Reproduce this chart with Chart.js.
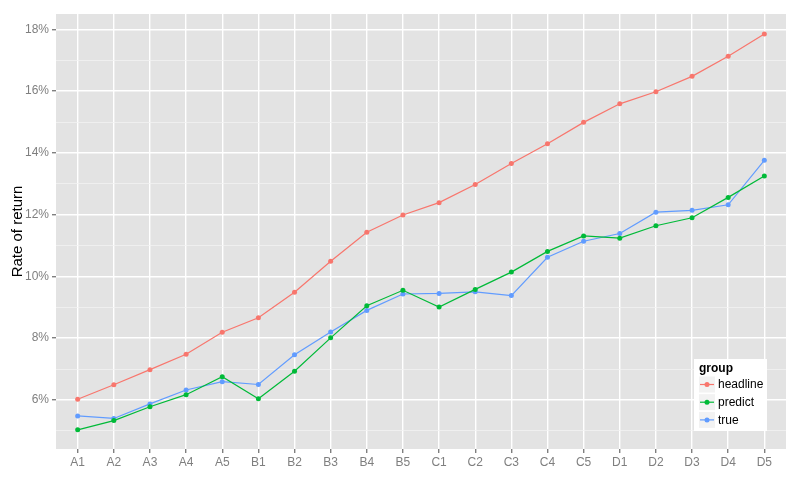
<!DOCTYPE html>
<html>
<head>
<meta charset="utf-8">
<script src="https://cdn.jsdelivr.net/npm/chart.js@4"></script>
<style>
  html, body { margin: 0; padding: 0; background: #fff; }
  #wrap { width: 800px; height: 480px; }
</style>
</head>
<body>
<div id="wrap"><canvas id="chartRate" width="800" height="480"></canvas></div>
<script>
// Data
const categories = ["A1","A2","A3","A4","A5","B1","B2","B3","B4","B5","C1","C2","C3","C4","C5","D1","D2","D3","D4","D5"];
const headline = [6.02,6.49,6.98,7.48,8.19,8.66,9.49,10.49,11.43,11.99,12.39,12.98,13.66,14.30,14.99,15.59,15.98,16.48,17.13,17.85];
const predict  = [5.03,5.33,5.78,6.17,6.75,6.04,6.93,8.01,9.05,9.55,9.01,9.58,10.14,10.81,11.31,11.24,11.64,11.90,12.56,13.25];
const trueRate = [5.48,5.40,5.87,6.32,6.59,6.50,7.46,8.20,8.90,9.43,9.45,9.50,9.38,10.62,11.14,11.39,12.08,12.14,12.32,13.76];
const groupNames = ["headline","predict","true"];
const groupColors = ["#F8766D","#00BA38","#619CFF"];
const yTicks = [5,6,7,8,9,10,11,12,13,14,15,16,17,18];

const fontFam = "'Liberation Sans', Arial, sans-serif";

function toPoints(arr) {
	return arr.map(function(v, i){ return {x: i, y: v}; });
}

// panel background
const panelBg = {
	id: "panelBg",
	beforeDraw: function(chart) {
		const a = chart.chartArea, ctx = chart.ctx;
		ctx.save();
		ctx.fillStyle = "#E3E3E3";
		ctx.fillRect(a.left, a.top, a.right - a.left, a.bottom - a.top);
		ctx.restore();
	}
};

// ggplot-like legend inside the panel
const groupLegend = {
	id: "groupLegend",
	afterDraw: function(chart) {
		const ctx = chart.ctx;
		const x = 694, y = 359;
		ctx.save();
		ctx.fillStyle = "#fff";
		ctx.fillRect(x, y, 73, 72);
		ctx.fillStyle = "#000";
		ctx.font = "bold 12px " + fontFam;
		ctx.textBaseline = "middle";
		ctx.textAlign = "left";
		ctx.fillText("group", x + 5, y + 9.5);
		chart.data.datasets.forEach(function(ds, i){
			const cy = y + 25.5 + i * 17.7;
			ctx.fillStyle = "#F2F2F2";
			ctx.fillRect(x + 5, cy - 8, 16, 16);
			ctx.strokeStyle = ds.borderColor;
			ctx.lineWidth = 1.2;
			ctx.beginPath();
			ctx.moveTo(x + 6, cy);
			ctx.lineTo(x + 20, cy);
			ctx.stroke();
			ctx.fillStyle = ds.borderColor;
			ctx.beginPath();
			ctx.arc(x + 13, cy, 2.5, 0, Math.PI * 2);
			ctx.fill();
			ctx.fillStyle = "#000";
			ctx.font = "12px " + fontFam;
			ctx.fillText(ds.label, x + 24, cy + 0.5);
		});
		ctx.restore();
	}
};

const rateChart = new Chart(document.getElementById("chartRate"), {
	type: "line",
	data: {
		datasets: [headline, predict, trueRate].map(function(arr, i){
			return {
				label: groupNames[i],
				data: toPoints(arr),
				borderColor: groupColors[i],
				backgroundColor: groupColors[i],
				borderWidth: 1.2,
				pointRadius: 2.5,
				pointBorderWidth: 0,
				pointHoverRadius: 2.5,
				tension: 0
			};
		})
	},
	options: {
		responsive: false,
		animation: false,
		layout: { padding: { top: 14, right: 14, left: 0, bottom: 0 } },
		plugins: {
			legend: { display: false },
			tooltip: { enabled: false }
		},
		scales: {
			x: {
				type: "linear",
				min: -0.6,
				max: 19.6,
				afterBuildTicks: function(scale) {
					scale.ticks = categories.map(function(c, i){ return {value: i}; });
				},
				afterFit: function(scale) { scale.height = 31; },
				border: { display: false },
				grid: {
					color: "#fff",
					lineWidth: 1.4,
					tickColor: "#7F7F7F",
					tickLength: 4
				},
				ticks: {
					autoSkip: false,
					maxRotation: 0,
					padding: 2,
					color: "#7F7F7F",
					font: { family: fontFam, size: 12 },
					callback: function(v) { return categories[v]; }
				}
			},
			y: {
				min: 4.41,
				max: 18.5,
				afterBuildTicks: function(scale) {
					scale.ticks = yTicks.map(function(v){ return {value: v}; });
				},
				afterFit: function(scale) { scale.width = 56; },
				border: { display: false },
				grid: {
					color: function(c) { return c.tick && c.tick.value % 2 === 0 ? "#fff" : "#F2F2F2"; },
					lineWidth: function(c) { return c.tick && c.tick.value % 2 === 0 ? 1.4 : 0.8; },
					tickColor: function(c) { return c.tick && c.tick.value % 2 === 0 ? "#7F7F7F" : "rgba(0,0,0,0)"; },
					tickLength: 4
				},
				ticks: {
					padding: 3,
					color: "#7F7F7F",
					font: { family: fontFam, size: 12 },
					callback: function(v) { return v % 2 === 0 ? v + "%" : ""; }
				},
				title: {
					display: true,
					text: "Rate of return",
					color: "#000",
					font: { family: fontFam, size: 15 },
					padding: { top: 9, bottom: 0 }
				}
			}
		}
	},
	plugins: [panelBg, groupLegend]
});
</script>
</body>
</html>
